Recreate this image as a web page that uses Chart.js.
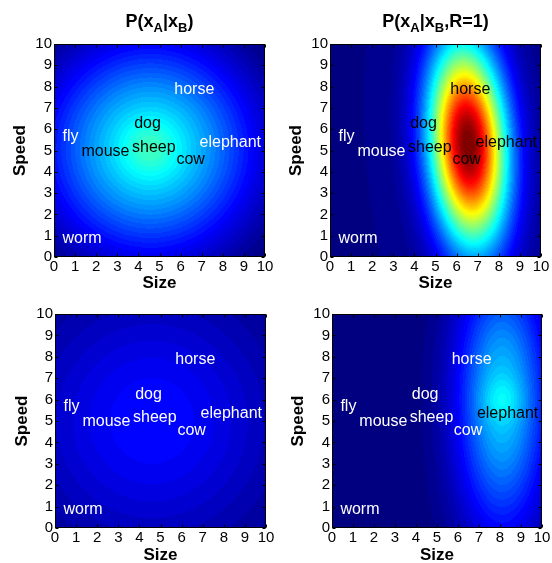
<!DOCTYPE html>
<html>
<head>
<meta charset="utf-8">
<script src="https://cdn.jsdelivr.net/npm/chart.js@4.4.1/dist/chart.umd.min.js"></script>
<style>
  body { margin: 0; background: #fff; }
  #wrap { position: relative; width: 552px; height: 563px; }
  #wrap canvas { position: absolute; }
</style>
</head>
<body>
<div id="wrap">
  <canvas id="c0" width="276" height="290" style="left:0;top:0"></canvas>
  <canvas id="c1" width="276" height="290" style="left:276px;top:0"></canvas>
  <canvas id="c2" width="276" height="273" style="left:0;top:290px"></canvas>
  <canvas id="c3" width="276" height="273" style="left:276px;top:290px"></canvas>
</div>
<script>
// animals and where they sit (size, speed)
var animals = ['fly', 'mouse', 'dog', 'sheep', 'cow', 'horse', 'elephant', 'worm'];
var sizes = [0.4, 1.3, 3.8, 3.7, 5.8, 5.7, 6.9, 0.4];
var speeds = [5.65, 4.95, 6.25, 5.15, 4.55, 7.85, 5.35, 0.85];
var tickValues = [0, 1, 2, 3, 4, 5, 6, 7, 8, 9, 10];

// panel titles (_X = subscript)
var titles = ['P(x_A|x_B)', 'P(x_A|x_B,R=1)', '', ''];
// 1 = black label, 0 = white label, per panel
var darkLabels = [
    [0, 1, 1, 1, 1, 0, 0, 0],
    [0, 0, 1, 1, 1, 1, 1, 0],
    [0, 0, 0, 0, 0, 0, 0, 0],
    [0, 0, 0, 0, 0, 0, 1, 0]
];

// density blob of each panel (jet scale 0..1)
var blobSize = [4.55, 6.55, 4.6, 8.1];
var blobSpeed = [5.1, 5.3, 5.0, 6.0];
var spreadSize = [3.66, 1.29, 4.2, 1.55];
var spreadSpeed = [3.66, 3.3, 4.2, 4.4];
var blobTilt = [0, -0.15, 0, 0];
var peakLevel = [0.43, 0.99, 0.14, 0.33];
var baseLevel = [-0.05, 0.015, 0, 0];
// small bright core on top of the blob
var coreLevel = [0.06, 0, 0, 0.05];
var coreSpread = [0.9, 1, 1, 0.7];

// layout of each panel canvas (chart area placement)
var layouts = [
    {top: 44, right: 11, yw: 54, xh: 33, ytitle: 10, xtitle: 0},
    {top: 44, right: 11, yw: 54, xh: 33, ytitle: 10, xtitle: 0},
    {top: 24, right: 10, yw: 55, xh: 35, ytitle: 12, xtitle: 1},
    {top: 24, right: 10, yw: 56, xh: 35, ytitle: 12, xtitle: 1}
];

var FONT = "'Liberation Sans', Arial, sans-serif";
Chart.defaults.font.family = FONT;
Chart.defaults.color = '#000';

function level(i, s, v) {
    var ex = s - blobSize[i], ey = v - blobSpeed[i];
    var dx = ex / spreadSize[i];
    var dy = ey / spreadSpeed[i];
    var r = blobTilt[i];
    var q = (dx * dx - 2 * r * dx * dy + dy * dy) / (1 - r * r);
    var c = coreSpread[i];
    return baseLevel[i] + peakLevel[i] * Math.exp(-q / 2) +
        coreLevel[i] * Math.exp(-(ex * ex + ey * ey) / (2 * c * c));
}

function clamp(a) { return Math.max(0, Math.min(1, a)); }

// matlab jet with 64 colours
function jet(v) {
    var idx = Math.min(63, Math.max(0, Math.floor(v * 64)));
    var t = idx / 63;
    return [clamp(1.5 - Math.abs(4 * t - 3)) * 255,
            clamp(1.5 - Math.abs(4 * t - 2)) * 255,
            clamp(1.5 - Math.abs(4 * t - 1)) * 255];
}

var heatPlugin = {
    id: 'heat',
    beforeDatasetsDraw: function (chart, args, opts) {
        var i = opts.panel;
        var a = chart.chartArea;
        var xs = chart.scales.x, ys = chart.scales.y;
        var l = Math.round(a.left), t = Math.round(a.top);
        var w = Math.round(a.right) - l, h = Math.round(a.bottom) - t;
        var off = document.createElement('canvas');
        off.width = w; off.height = h;
        var octx = off.getContext('2d');
        var img = octx.createImageData(w, h);
        for (var py = 0; py < h; py++) {
            var sp = ys.getValueForPixel(t + py + 0.5);
            for (var px = 0; px < w; px++) {
                var sz = xs.getValueForPixel(l + px + 0.5);
                var c = jet(level(i, sz, sp));
                var k = (py * w + px) * 4;
                img.data[k] = c[0]; img.data[k + 1] = c[1]; img.data[k + 2] = c[2]; img.data[k + 3] = 255;
            }
        }
        octx.putImageData(img, 0, 0);
        chart.ctx.drawImage(off, l, t);
    },
    afterDatasetsDraw: function (chart, args, opts) {
        var i = opts.panel;
        var ctx = chart.ctx;
        var a = chart.chartArea;
        var xs = chart.scales.x, ys = chart.scales.y;
        var meta = chart.getDatasetMeta(0);

        // animal names
        ctx.save();
        ctx.font = '16px ' + FONT;
        ctx.textAlign = 'left';
        ctx.textBaseline = 'middle';
        meta.data.forEach(function (pt, j) {
            ctx.fillStyle = darkLabels[i][j] ? '#000' : '#fff';
            ctx.fillText(animals[j], pt.x, pt.y);
        });

        // box + inward ticks
        var l = Math.round(a.left) + 0.5, r = Math.round(a.right) - 0.5;
        var t = Math.round(a.top) + 0.5, b = Math.round(a.bottom) - 0.5;
        ctx.strokeStyle = '#000';
        ctx.lineWidth = 1;
        ctx.beginPath();
        tickValues.forEach(function (v) {
            var x = Math.round(xs.getPixelForValue(v)) + 0.5;
            var y = Math.round(ys.getPixelForValue(v)) + 0.5;
            ctx.moveTo(x, b); ctx.lineTo(x, b - 3);
            ctx.moveTo(x, t); ctx.lineTo(x, t + 3);
            ctx.moveTo(l, y); ctx.lineTo(l + 3, y);
            ctx.moveTo(r, y); ctx.lineTo(r - 3, y);
        });
        ctx.stroke();
        ctx.strokeRect(l, t, r - l, b - t);

        // title with subscripts
        if (titles[i]) {
            var parts = [];
            var s = titles[i];
            for (var k = 0; k < s.length; k++) {
                if (s[k] === '_') { parts.push({txt: s[k + 1], sub: true}); k++; }
                else parts.push({txt: s[k], sub: false});
            }
            var big = 'bold 18px ' + FONT, small = 'bold 13px ' + FONT;
            var total = 0;
            parts.forEach(function (p) {
                ctx.font = p.sub ? small : big;
                p.w = ctx.measureText(p.txt).width;
                total += p.w;
            });
            var x0 = (a.left + a.right) / 2 - total / 2;
            ctx.textBaseline = 'alphabetic';
            ctx.fillStyle = '#000';
            parts.forEach(function (p) {
                ctx.font = p.sub ? small : big;
                ctx.fillText(p.txt, x0, p.sub ? 32 : 27);
                x0 += p.w;
            });
        }
        ctx.restore();
    }
};

function makePanel(i) {
    var L = layouts[i];
    var pts = sizes.map(function (s, j) { return {x: s, y: speeds[j]}; });
    new Chart(document.getElementById('c' + i), {
        type: 'scatter',
        data: {
            datasets: [{
                label: 'animals',
                data: pts,
                pointRadius: 0,
                pointHoverRadius: 0
            }]
        },
        options: {
            responsive: false,
            animation: false,
            events: [],
            layout: {padding: {top: L.top, right: L.right, left: 0, bottom: 0}},
            plugins: {
                legend: {display: false},
                tooltip: {enabled: false},
                heat: {panel: i}
            },
            scales: {
                x: {
                    type: 'linear', min: 0, max: 10,
                    afterBuildTicks: function (sc) { sc.ticks = tickValues.map(function (v) { return {value: v}; }); },
                    afterFit: function (sc) { sc.height = L.xh; },
                    grid: {display: false, drawTicks: false},
                    border: {display: false},
                    ticks: {font: {size: 15}, padding: 1, maxRotation: 0, autoSkip: false},
                    title: {display: true, text: 'Size', font: {size: 17, weight: 'bold', lineHeight: 0.8},
                        padding: {top: 0, bottom: L.xtitle}}
                },
                y: {
                    type: 'linear', min: 0, max: 10,
                    afterBuildTicks: function (sc) { sc.ticks = tickValues.map(function (v) { return {value: v}; }); },
                    afterFit: function (sc) { sc.width = L.yw; },
                    grid: {display: false, drawTicks: false},
                    border: {display: false},
                    ticks: {font: {size: 15}, padding: 2, autoSkip: false},
                    title: {display: true, text: 'Speed', font: {size: 17, weight: 'bold', lineHeight: 1.2},
                        padding: {top: L.ytitle, bottom: 0}}
                }
            }
        },
        plugins: [heatPlugin]
    });
}

for (var p = 0; p < 4; p++) makePanel(p);
</script>
</body>
</html>
